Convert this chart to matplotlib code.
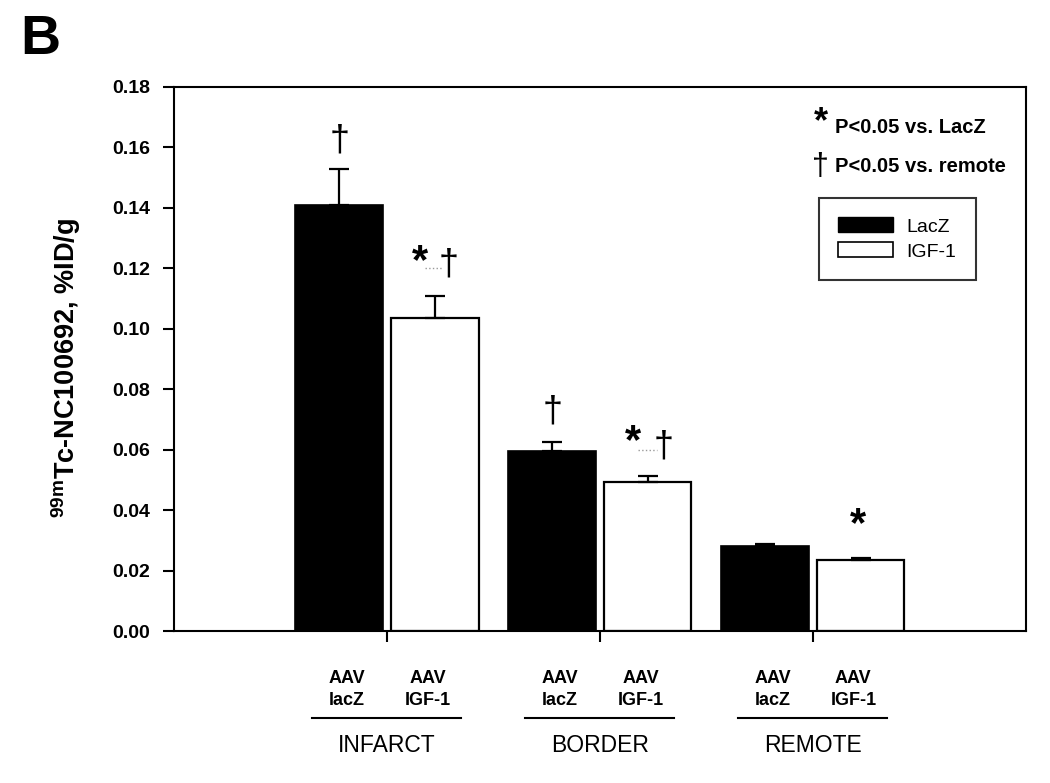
import numpy as np
import matplotlib.pyplot as plt
from matplotlib.patches import Patch

plt.rcParams['font.family'] = ['Liberation Sans', 'DejaVu Sans']
plt.rcParams['mathtext.fontset'] = 'custom'
plt.rcParams['mathtext.rm'] = 'Liberation Sans:bold'
plt.rcParams['mathtext.it'] = 'Liberation Sans:bold'
plt.rcParams['mathtext.bf'] = 'Liberation Sans:bold'

regions = ['INFARCT', 'BORDER', 'REMOTE']
lacz = [0.141, 0.0597, 0.0282]
lacz_err = [0.0120, 0.0030, 0.0006]
igf = [0.1034, 0.0494, 0.0235]
igf_err = [0.0073, 0.0020, 0.0007]
yticks = [0.00, 0.02, 0.04, 0.06, 0.08, 0.10, 0.12, 0.14, 0.16, 0.18]

x = np.arange(1, len(regions) + 1)
w = 0.41
off = 0.225

fig = plt.figure(figsize=(10.5, 7.83), dpi=100)
ax = fig.add_axes([0.1657, 0.194, 0.8113, 0.695])

ax.bar(x - off, lacz, w, color='black', edgecolor='black', linewidth=1.2)
ax.bar(x + off, igf, w, color='white', edgecolor='black', linewidth=1.6)
ax.errorbar(x - off, lacz, yerr=[np.zeros(3), lacz_err], fmt='none',
            ecolor='black', elinewidth=1.6, capsize=7, capthick=1.6)
ax.errorbar(x + off, igf, yerr=[np.zeros(3), igf_err], fmt='none',
            ecolor='black', elinewidth=1.6, capsize=7, capthick=1.6)

ax.set_xlim(0, 4)
ax.set_ylim(0, 0.18)
ax.set_yticks(yticks)
ax.set_yticklabels(['%.2f' % t for t in yticks], fontsize=14, fontweight='bold')
ax.set_xticks(x)
ax.set_xticklabels([])
ax.tick_params(direction='out', length=8, width=1.5, pad=9)
for s in ax.spines.values():
    s.set_linewidth(1.5)

# significance marks
star = dict(ha='center', va='center', fontsize=30, fontweight='bold')
dag = dict(ha='center', va='center', fontsize=26)
ax.text(0.78, 0.162, '\u2020', **dag)
ax.text(1.153, 0.122, '*', **star)
ax.text(1.29, 0.121, '\u2020', **dag)
ax.plot([1.18, 1.26], [0.120, 0.120], ls=':', color='0.6', lw=1)
ax.text(1.777, 0.0725, '\u2020', **dag)
ax.text(2.157, 0.0625, '*', **star)
ax.text(2.297, 0.061, '\u2020', **dag)
ax.plot([2.18, 2.27], [0.060, 0.060], ls=':', color='0.6', lw=1)
ax.text(3.21, 0.035, '*', **star)

# key text
ax.text(0.759, 0.935, '*', transform=ax.transAxes, fontsize=26, fontweight='bold',
        ha='center', va='center')
ax.text(0.776, 0.925, 'P<0.05 vs. LacZ', transform=ax.transAxes, fontsize=14.5,
        fontweight='bold', va='center')
ax.text(0.759, 0.853, '\u2020', transform=ax.transAxes, fontsize=22,
        ha='center', va='center')
ax.text(0.776, 0.853, 'P<0.05 vs. remote', transform=ax.transAxes, fontsize=14.5,
        fontweight='bold', va='center')

handles = [Patch(facecolor='black', edgecolor='black', label='LacZ'),
           Patch(facecolor='white', edgecolor='black', linewidth=1.2, label='IGF-1')]
leg = ax.legend(handles=handles, loc='upper left', bbox_to_anchor=(0.757, 0.796),
                fontsize=14, frameon=True, fancybox=False, edgecolor='black',
                handlelength=2.8, handleheight=0.8, borderpad=1.0, labelspacing=0.35,
                handletextpad=0.7, borderaxespad=0)
leg.get_frame().set_linewidth(1.5)

# category labels under the axis
tr = ax.get_xaxis_transform()
for xi, name in zip(x, regions):
    for dx, sub in [(-0.19, 'lacZ'), (0.19, 'IGF-1')]:
        ax.text(xi + dx, -0.088, 'AAV', transform=tr, ha='center', va='center',
                fontsize=13, fontweight='bold')
        ax.text(xi + dx, -0.127, sub, transform=tr, ha='center', va='center',
                fontsize=13, fontweight='bold')
    ax.plot([xi - 0.35, xi + 0.35], [-0.160, -0.160], transform=tr, color='black',
            lw=1.5, clip_on=False)
    ax.text(xi, -0.210, name, transform=tr, ha='center', va='center', fontsize=16.5)

fig.text(0.063, 1 - 368 / 783, r'$^{99m}$Tc-NC100692, %ID/g', rotation=90,
         ha='center', va='center', fontsize=19.5, fontweight='bold')
fig.text(0.019, 1 - 40 / 783, 'B', fontsize=40, fontweight='bold', va='center')

fig.savefig('out.png', dpi=100)
